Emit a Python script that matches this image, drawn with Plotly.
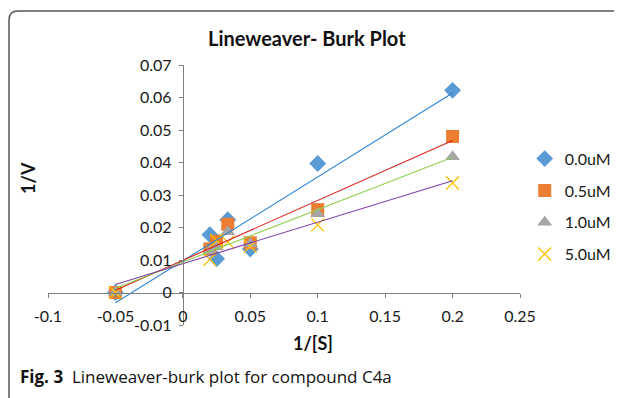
import numpy as np
import plotly.graph_objects as go

# ---- data ----
inv_s = [-0.05, 0.02, 0.025, 0.0333, 0.05, 0.1, 0.2]
v_00 = [0.0, 0.0178, 0.0104, 0.0224, 0.0134, 0.0397, 0.0622]
v_05 = [0.0, 0.0134, 0.0158, 0.0210, 0.0153, 0.0255, 0.0480]
v_10 = [0.0, 0.0128, 0.0140, 0.0187, 0.0150, 0.0242, 0.0418]
v_50 = [0.0, 0.0102, 0.0160, 0.0155, 0.0142, 0.0208, 0.0337]
series_names = ["0.0uM", "0.5uM", "1.0uM", "5.0uM"]
x_ticks = [-0.1, -0.05, 0, 0.05, 0.1, 0.15, 0.2, 0.25]
x_tick_text = ["-0.1", "-0.05", "0", "0.05", "0.1", "0.15", "0.2", "0.25"]
y_ticks = [-0.01, 0, 0.01, 0.02, 0.03, 0.04, 0.05, 0.06, 0.07]
y_tick_text = ["-0.01", "0", "0.01", "0.02", "0.03", "0.04", "0.05", "0.06", "0.07"]

marker_colors = ["#5B9BD5", "#ED7D31", "#A5A5A5", "#FFC000"]
line_colors = ["#2E86D6", "#D9201C", "#92D050", "#7F3FA8"]
symbols = ["diamond", "square", "triangle-up", "x-thin-open"]
sizes = [13, 13, 13, 13]

FONT = "Lato, Open Sans, sans-serif"
fig = go.Figure()
all_v = [v_00, v_05, v_10, v_50]

for i, (name, vals) in enumerate(zip(series_names, all_v)):
    mk = dict(symbol=symbols[i], size=sizes[i], color=marker_colors[i])
    if symbols[i] == "x-thin-open":
        mk["line"] = dict(color=marker_colors[i], width=1.3)
    else:
        mk["line"] = dict(width=0)
    fig.add_trace(go.Scatter(x=inv_s, y=vals, mode="markers", name=name,
                             marker=mk, legendgroup=name))

for i, vals in enumerate(all_v):
    m, b = np.polyfit(inv_s, vals, 1)
    xs = [min(inv_s), max(inv_s)]
    fig.add_trace(go.Scatter(x=xs, y=[m * xx + b for xx in xs], mode="lines",
                             line=dict(color=line_colors[i], width=1.1),
                             showlegend=False, hoverinfo="skip"))

xr = [-0.1, 0.25]
yr = [-0.01, 0.07]
ypos = (0 - yr[0]) / (yr[1] - yr[0])
xpos = (0 - xr[0]) / (xr[1] - xr[0])

axis_common = dict(showgrid=False, zeroline=False, showline=True, linecolor="#7F7F7F",
                   linewidth=1, ticks="outside", ticklen=4, tickcolor="#7F7F7F",
                   tickfont=dict(family=FONT, size=16, color="#1a1a1a"))

# the page body has an 8px margin, so the figure is 8px smaller on each axis
fig.update_layout(
    width=614, height=390,
    margin=dict(l=40, r=102, t=57, b=73, autoexpand=False),
    paper_bgcolor="white", plot_bgcolor="white",
    font=dict(family=FONT, color="#1a1a1a"),
    xaxis=dict(range=xr, tickvals=x_ticks, ticktext=x_tick_text, anchor="free",
               position=ypos, ticklabelstandoff=5, **axis_common),
    yaxis=dict(range=yr, tickvals=y_ticks, ticktext=y_tick_text, anchor="free",
               position=xpos, ticklabelstandoff=4, **axis_common),
    legend=dict(x=1.01, y=0.705, xanchor="left", yanchor="top", tracegroupgap=8,
                itemwidth=30, font=dict(family=FONT, size=16, color="#1a1a1a"),
                bgcolor="rgba(0,0,0,0)"),
    showlegend=True,
)

# helpers: page pixel -> paper coords (plot area spans page x 48..520, y 65..325)
W, H = 472, 260
def px(xp):
    return (xp - 48) / W
def py(yp):
    return (325 - yp) / H

x0, y0 = px(9), py(11)
r = 9
path = (f"M {x0},{py(398)} L {x0},{py(11 + r)} "
        f"Q {x0},{y0} {px(9 + r)},{y0} L {px(640)},{y0}")
fig.add_shape(type="path", path=path, xref="paper", yref="paper",
              line=dict(color="#555555", width=1.5))

def note(text, x, y, size, xanchor="center", angle=0, family=FONT):
    fig.add_annotation(text=text, x=px(x), y=py(y), xref="paper", yref="paper",
                       xanchor=xanchor, yanchor="middle", showarrow=False,
                       textangle=angle, font=dict(family=family, size=size, color="#111"))

note("<b>Lineweaver- Burk Plot</b>", 307, 38, 20)
note("<b>1/V</b>", 28, 178, 18, angle=-90)
note("<b>1/[S]</b>", 313, 343, 18)
note("<b>Fig. 3</b>  Lineweaver-burk plot for compound C4a", 18, 376, 17,
     xanchor="left", family="Open Sans, sans-serif")

fig.write_html("out.html")
